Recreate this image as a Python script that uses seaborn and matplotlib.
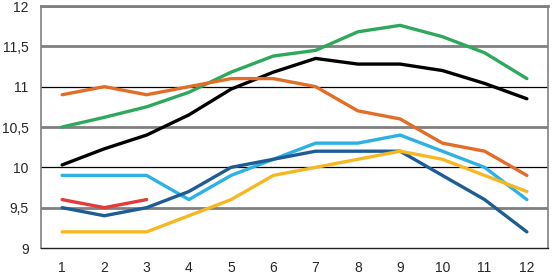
import numpy as np
import pandas as pd
import matplotlib
matplotlib.use("Agg")
import matplotlib.pyplot as plt
import seaborn as sns

months = list(range(1, 13))
green = [10.5, 10.62, 10.75, 10.93, 11.18, 11.38, 11.45, 11.68, 11.76, 11.62, 11.42, 11.1]
black = [10.03, 10.23, 10.4, 10.65, 10.97, 11.18, 11.35, 11.28, 11.28, 11.2, 11.04, 10.85]
orange = [10.9, 11.0, 10.9, 11.0, 11.1, 11.1, 11.0, 10.7, 10.6, 10.3, 10.2, 9.9]
lightblue = [9.9, 9.9, 9.9, 9.6, 9.9, 10.1, 10.3, 10.3, 10.4, 10.2, 10.0, 9.6]
darkblue = [9.5, 9.4, 9.5, 9.7, 10.0, 10.1, 10.2, 10.2, 10.2, 9.9, 9.6, 9.2]
yellow = [9.2, 9.2, 9.2, 9.4, 9.6, 9.9, 10.0, 10.1, 10.2, 10.1, 9.9, 9.7]
red = [9.6, 9.5, 9.6] + [np.nan] * 9

ytick_vals = [9, 9.5, 10, 10.5, 11, 11.5, 12]
ytick_labels = ["9", "9,5", "10", "10,5", "11", "11,5", "12"]

series = {
    "green": green, "black": black, "orange": orange,
    "lightblue": lightblue, "darkblue": darkblue, "yellow": yellow, "red": red,
}
palette = {
    "green": "#2EA85C", "black": "#000000", "orange": "#E36C26",
    "lightblue": "#2DB0E2", "darkblue": "#1E5C96", "yellow": "#F5B823", "red": "#E23B3B",
}

rows = []
for name, vals in series.items():
    for m, v in zip(months, vals):
        rows.append({"month": m, "value": v, "series": name})
df = pd.DataFrame(rows)

sns.set_style("white")
plt.rcParams["font.family"] = ["Liberation Sans", "DejaVu Sans"]

fig = plt.figure(figsize=(5.52, 2.73), dpi=100)
ax = fig.add_axes([41 / 552, 25 / 273, 507 / 552, 242 / 273])

# gridlines
for v in ytick_vals:
    if v in (10, 11):
        ax.axhline(v, color="black", lw=0.9, zorder=1)
    elif v == 9:
        pass
    else:
        ax.axhline(v, color="#808080", lw=2.0, zorder=1)

for name, vals in series.items():
    sub = df[df["series"] == name]
    sns.lineplot(data=sub, x="month", y="value", color=palette[name], lw=2.4,
                 ax=ax, zorder=3, legend=False, estimator=None)

ax.set_xlim(0.5, 12.5)
ax.set_ylim(9, 12)
ax.set_xlabel("")
ax.set_ylabel("")
ax.set_xticks(months)
ax.set_xticklabels([str(m) for m in months], fontsize=10)
ax.set_xticks(np.arange(1.5, 12.5, 1), minor=True)
ax.tick_params(axis="x", which="major", length=0, pad=9)
ax.tick_params(axis="x", which="minor", length=5, width=1, color="#404040")
ax.set_yticks(ytick_vals)
ax.set_yticklabels(ytick_labels, fontsize=10)
ax.tick_params(axis="y", length=5, width=1, color="#606060", pad=4)

for s in ["left", "right", "top"]:
    ax.spines[s].set_visible(True)
    ax.spines[s].set_color("#808080")
    ax.spines[s].set_linewidth(1.2)
ax.spines["top"].set_linewidth(2.0)
ax.spines["bottom"].set_color("#202020")
ax.spines["bottom"].set_linewidth(1.0)

fig.savefig("out.png", dpi=100)
